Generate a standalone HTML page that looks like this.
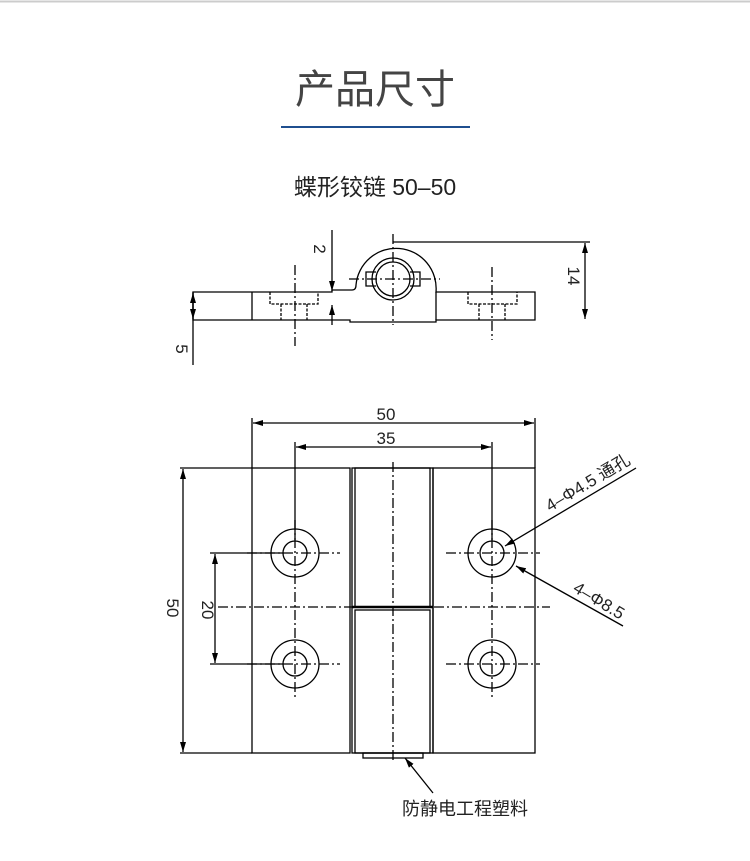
<!DOCTYPE html>
<html><head><meta charset="utf-8"><style>
body{margin:0;background:#fff;width:750px;height:861px;overflow:hidden}
svg{display:block}
text{font-family:"Liberation Sans","Noto Sans CJK SC",sans-serif;fill:#222}
</style></head><body>
<svg width="750" height="861" viewBox="0 0 750 861">
<defs><marker id="a" markerWidth="10" markerHeight="6" refX="10" refY="3" orient="auto" markerUnits="userSpaceOnUse"><path d="M0,0L10,3L0,6z" fill="#000"/></marker></defs>
<line x1="0" y1="1.5" x2="750" y2="1.5" stroke="#ccc" stroke-width="2"/>
<text x="375" y="103" font-size="40" text-anchor="middle" style="fill:#444">产品尺寸</text>
<line x1="281" y1="127" x2="470" y2="127" stroke="#1f4f8f" stroke-width="2"/>
<text x="375" y="195" font-size="23" text-anchor="middle">蝶形铰链 50–50</text>

<g stroke="#000" stroke-width="1.3" fill="none">
<!-- top view -->
<path d="M193,292H332V290H352Q356,290 356,285A37,37 0 1 1 436,292H535V320H436V322H350V320H193Z"/>
<line x1="252" y1="292" x2="252" y2="320"/>
<path d="M270,292V304H318V292M281,304V320M307,304V320" stroke-dasharray="3,1.5"/>
<path d="M468,292V304H517V292M479,304V320M505,304V320" stroke-dasharray="3,1.5"/>
<line x1="436" y1="292" x2="436" y2="320"/>
<circle cx="393" cy="279" r="17"/><circle cx="393" cy="279" r="21"/>
<path d="M376,272H366V286H376M410,272H420V286H410"/>
<path d="M295,265V346M492,267V340M393,234V325M349,279H440" stroke-dasharray="10,3,2,3"/>
<line x1="393" y1="242" x2="590" y2="242"/>
<line x1="585" y1="280" x2="585" y2="243" marker-end="url(#a)"/>
<line x1="585" y1="280" x2="585" y2="319" marker-end="url(#a)"/>
<line x1="332" y1="230" x2="332" y2="291" marker-end="url(#a)"/>
<line x1="332" y1="325" x2="332" y2="305" marker-end="url(#a)"/>
<line x1="193" y1="365" x2="193" y2="292"/>
<line x1="193" y1="306" x2="193" y2="293" marker-end="url(#a)"/>
<line x1="193" y1="306" x2="193" y2="319" marker-end="url(#a)"/>

<!-- front view -->
<rect x="252" y="468" width="98" height="285"/>
<rect x="433" y="468" width="102" height="285"/>
<rect x="355" y="468" width="75" height="139"/>
<rect x="352" y="468" width="81" height="285"/>
<rect x="355" y="610" width="75" height="143"/>
<line x1="352" y1="607" x2="433" y2="607" stroke-width="2.5"/>
<rect x="363" y="753" width="60" height="5"/>
<g fill="none">
<circle cx="295" cy="553" r="24"/><circle cx="295" cy="553" r="12"/>
<circle cx="492" cy="553" r="24"/><circle cx="492" cy="553" r="12"/>
<circle cx="295" cy="664" r="24"/><circle cx="295" cy="664" r="12"/>
<circle cx="492" cy="664" r="24"/><circle cx="492" cy="664" r="12"/>
</g>
<path d="M393,462V760M295,520V700M492,520V700M247,553H340M446,553H540M247,664H340M446,664H540M218,607H550" stroke-dasharray="10,3,2,3"/>
<!-- dims -->
<path d="M252,468V418M535,468V418M295,540V442M492,540V442M252,468H180M252,753H180M283,553H210M283,664H210"/>
<line x1="393" y1="423" x2="253" y2="423" marker-end="url(#a)"/>
<line x1="393" y1="423" x2="534" y2="423" marker-end="url(#a)"/>
<line x1="393" y1="447" x2="296" y2="447" marker-end="url(#a)"/>
<line x1="393" y1="447" x2="491" y2="447" marker-end="url(#a)"/>
<line x1="183" y1="610" x2="183" y2="469" marker-end="url(#a)"/>
<line x1="183" y1="610" x2="183" y2="752" marker-end="url(#a)"/>
<line x1="215" y1="607" x2="215" y2="554" marker-end="url(#a)"/>
<line x1="215" y1="607" x2="215" y2="663" marker-end="url(#a)"/>
<line x1="636" y1="468" x2="505" y2="546" marker-end="url(#a)"/>
<line x1="623" y1="626" x2="516" y2="566" marker-end="url(#a)"/>
<line x1="433" y1="793" x2="405" y2="758" marker-end="url(#a)"/>
</g>

<g font-size="17">
<text x="386" y="420" text-anchor="middle">50</text>
<text x="386" y="444" text-anchor="middle">35</text>
<text transform="translate(167,608) rotate(90)" text-anchor="middle">50</text>
<text transform="translate(202,610) rotate(90)" text-anchor="middle">20</text>
<text transform="translate(314,249) rotate(90)" text-anchor="middle">2</text>
<text transform="translate(568,276) rotate(90)" text-anchor="middle">14</text>
<text transform="translate(176,349) rotate(90)" text-anchor="middle">5</text>
<text transform="translate(550,512) rotate(-31)">4–Φ4.5 通孔</text>
<text transform="translate(572,591) rotate(31)">4–Φ8.5</text>
<text x="465" y="815" font-size="18" text-anchor="middle">防静电工程塑料</text>
</g>
</svg>
</body></html>
